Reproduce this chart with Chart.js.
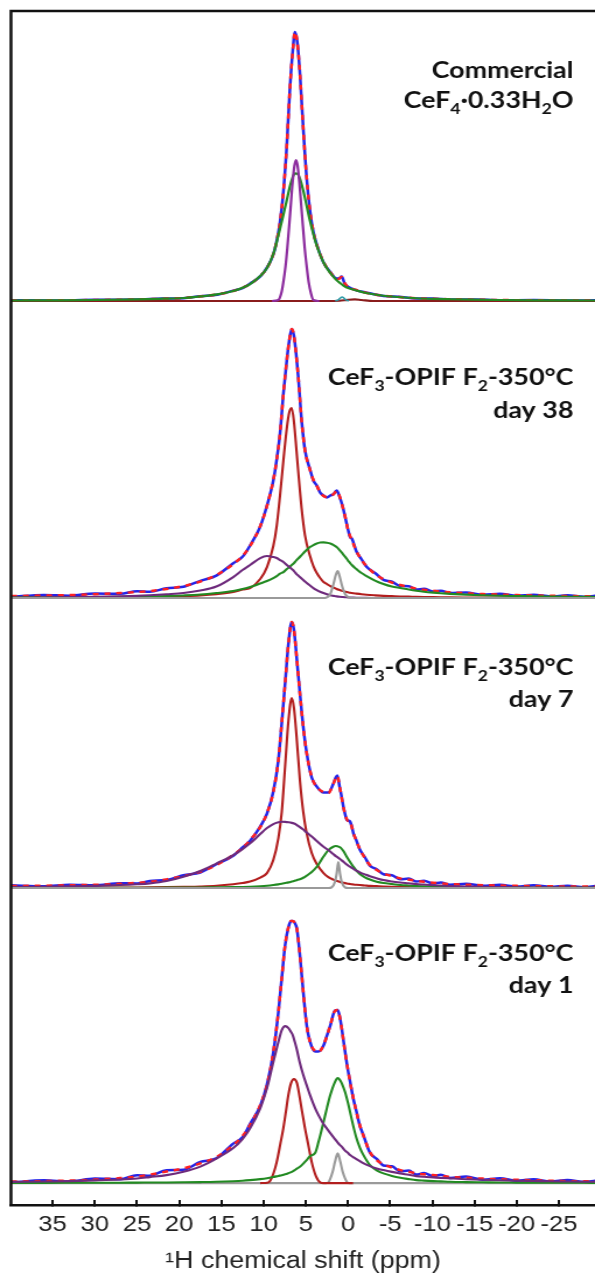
<!DOCTYPE html>
<html>
<head>
<meta charset="utf-8">
<script src="https://cdn.jsdelivr.net/npm/chart.js@4.4.1/dist/chart.umd.min.js"></script>
<style>
    html, body { margin: 0; padding: 0; background: #fff; overflow: hidden; }
    #wrap { width: 595px; height: 1276px; overflow: hidden; }
</style>
</head>
<body>
<div id="wrap"><canvas id="spectra" width="510" height="1276" style="display:block;width:595px;height:1276px"></canvas></div>
<script>
// Osa x (ppm), obrácená
const X_LEFT = 39.93;
const X_RIGHT = -29.27;
const xTicks = [35, 30, 25, 20, 15, 10, 5, 0, -5, -10, -15, -20, -25];

// Posun základní linie jednotlivých spekter (shora dolů)
const OFF1 = 904;
const OFF2 = 607;
const OFF3 = 317;
const OFF4 = 22;

// --- Commercial CeF4·0.33H2O ---
const p1Ppm = [39.9, 35, 30, 25, 22, 19.5, 17.5, 15.5, 13.6, 12.5, 11.6, 10.4, 9.6, 8.85, 8.45, 8.05, 7.65, 7.25, 6.9, 6.55,
    6.28, 6.0, 5.7, 5.3, 4.9, 4.5, 4.1, 3.7, 2.9, 2.1, 1.5, 1.1, 0.75, 0.4, 0, -1, -2, -4.2, -6, -8.1,
    -10, -12, -15, -18, -22, -26, -29.3];
const p1Blue = [0.8, 0.5, 1.2, 1.4, 2.6, 2.8, 4.9, 6.3, 10.4, 13, 17.4, 24.6, 33.4, 46.5, 60, 79, 110, 156, 210, 250,
    269, 258, 228, 172, 123, 90, 69, 56.5, 38.6, 29, 23, 22.5, 24.5, 17.6, 14.3, 10.7, 8.8, 5.1, 4.3, 2.6,
    2.5, 1.6, 1.5, 0.8, 0.9, 0.5, 0.7];
const p1Fit = [0.5, 0.7, 1.0, 1.6, 2.3, 3.0, 4.6, 6.6, 10, 13.3, 17, 25, 33, 47, 60, 79, 110, 156, 210, 250,
    269, 258, 228, 172, 123, 90, 69, 56, 39, 28.5, 23, 22, 24, 18, 14, 11, 8.5, 5.4, 4.0, 2.8,
    2.2, 1.8, 1.3, 1.0, 0.7, 0.6, 0.5];
const p1Green = [0.5, 0.7, 1.0, 1.6, 2.3, 3.0, 4.6, 6.6, 10, 13.3, 17, 25, 33, 47, 59, 72.5, 86.5, 101, 114, 124,
    127.6, 127.3, 122.4, 110.4, 95.2, 80, 66.8, 55.3, 38.5, 28, 22.2, 19, 16.8, 14.6, 13, 10.6, 8.3, 5.3, 4.0, 2.8,
    2.2, 1.8, 1.3, 1.0, 0.7, 0.6, 0.5];
const p1PurplePpm = [9, 8.26, 7.9, 7.66, 7.4, 7.19, 6.87, 6.56, 6.35, 6.16, 5.97, 5.77, 5.45, 5.13, 4.9, 4.66, 4.4, 4.11, 3.4];
const p1Purple = [0, 1, 8, 19, 35, 53, 86, 119, 135, 141, 135, 119, 86, 53, 35, 19, 8, 1, 0];
const p1SmallPpm = [1.5, 1.1, 0.85, 0.7, 0.55, 0.3, -0.1];
const p1Small = [0, 1.5, 3.5, 4, 3.5, 1.5, 0];
const p1BasePpm = [39.9, 2.5, 1.0, 0, -0.8, -1.6, -3, -29.3];
const p1Base = [0, 0, 0.3, 1.2, 1.6, 1.0, 0, 0];

// --- day 38 ---
const p2Ppm = [39.9, 36, 33, 30, 27, 25, 23.5, 21.5, 19.5, 17.5,
    15.6, 13.6, 12.5, 11.6, 10.4, 9.6, 8.85, 8.45, 8.05, 7.65,
    7.25, 6.95, 6.67, 6.4, 6.1, 5.9, 5.5, 5.1, 4.5, 4.1,
    3.7, 3.3, 2.9, 2.5, 2.1, 1.7, 1.35, 1.0, 0.6, 0.3,
    0, -0.25, -0.45, -1.0, -1.6, -2.2, -3.2, -4.2, -5.2, -6.2,
    -7.2, -8.1, -9, -10.1, -11, -12.1, -14, -16, -18, -20,
    -22, -24, -26, -28, -29.3];
const p2Blue = [1.2, 3.1, 2.4, 4.5, 4.3, 6.8, 6.2, 9.8, 11.3, 17.2,
    22.4, 34.8, 41.2, 52.6, 71.5, 92.5, 117.5, 138.5, 165, 205,
    238, 258, 269, 262, 240, 222, 178, 148, 128.5, 117.5,
    112.5, 105.5, 102.5, 100.5, 102.5, 104, 107.5, 101.5, 90.5, 79.5,
    68.5, 61, 59.5, 46.5, 38.8, 31.2, 25, 18.2, 16.4, 12.1,
    11.8, 8.6, 9.2, 6.5, 7.4, 5, 5.6, 3.2, 4.2, 2.3,
    3.3, 1.6, 2.7, 1.2, 2.2];
const p2Fit = [2, 2.5, 3, 3.8, 5, 6, 7, 9, 12, 16.5,
    23, 34, 42, 52, 72, 92, 118, 138, 165, 205,
    238, 258, 269, 262, 240, 222, 178, 148, 128, 118,
    112, 106, 102, 101, 102, 104, 107, 102, 90, 80,
    68, 62, 58, 47, 38, 32, 24, 19, 15.5, 13,
    11, 9.5, 8.3, 7.3, 6.5, 5.8, 4.8, 4, 3.4, 3,
    2.6, 2.3, 2, 1.8, 1.7];
const p2DarkRed = [0.3, 0.35, 0.45, 0.55, 0.75, 0.9, 1.1, 1.4, 1.9, 2.6,
    3.8, 6, 8.5, 10, 19, 31, 52, 72, 103, 138,
    170, 186, 190, 176, 147, 127, 90, 63, 42, 32,
    25, 20, 16, 14, 12, 10.5, 9, 8, 7, 6.3,
    5.7, 5.3, 5, 4.4, 3.8, 3.3, 2.7, 2.2, 1.9, 1.6,
    1.4, 1.2, 1.05, 0.9, 0.8, 0.7, 0.6, 0.5, 0.45, 0.4,
    0.35, 0.3, 0.27, 0.25, 0.25];
const p2Purple = [0.5, 0.7, 0.9, 1.2, 1.7, 2.2, 2.8, 3.8, 5, 7.5,
    11.5, 21, 28, 33, 40, 42, 41, 40, 38, 36,
    33, 31, 29, 27, 24, 22.5, 19.5, 16.5, 12.5, 10,
    8, 6.3, 5, 3.8, 2.8, 2.2, 1.7, 1.3, 1, 0.8,
    0.6, 0.5, 0.45, 0.3, 0.2, 0.15, 0.1, 0.05, 0, 0,
    0, 0, 0, 0, 0, 0, 0, 0, 0, 0,
    0, 0, 0, 0, 0];
const p2Green = [0.6, 0.7, 0.8, 1, 1.2, 1.4, 1.6, 2, 2.6, 3.5,
    5, 7, 9, 11, 14.5, 17, 20, 22, 24.5, 26,
    29, 31, 33, 35, 38, 39.5, 43, 46.5, 51, 53,
    54.5, 55.5, 55.7, 55.3, 54.5, 53, 51, 48, 44, 41,
    37.5, 35, 33, 29, 25, 22, 17.5, 14, 11.5, 10,
    8.5, 7.3, 6.3, 5.4, 4.8, 4.2, 3.4, 2.8, 2.3, 2,
    1.7, 1.5, 1.3, 1.2, 1.1];
const p2GrayPpm = [39.9, 3.0, 2.5, 2.1, 1.75, 1.45, 1.22, 1.0, 0.7, 0.35, -0.1, -0.6, -29.3];
const p2Gray = [0, 0, 0.7, 4, 13, 23, 27, 22, 12, 4, 0.7, 0, 0];

// --- day 7 ---
const p3Ppm = [39.9, 36, 33, 30, 27, 25, 23.5, 21.5, 19.5, 17.5,
    15.6, 13.6, 12.5, 11.6, 10.4, 9.6, 8.85, 8.25, 7.85, 7.45,
    7.05, 6.67, 6.4, 6.1, 5.7, 5.3, 4.9, 4.3, 3.7, 2.9,
    2.33, 1.75, 1.45, 1.26, 1.0, 0.85, 0.5, 0.15, -0.05, -0.25,
    -0.45, -0.65, -1.0, -1.4, -2.0, -2.6, -3.4, -4.2, -5.2, -6.2,
    -7.2, -8.1, -9, -10.1, -11, -12.1, -14, -16, -18, -20,
    -22, -24, -26, -28, -29.3];
const p3Blue = [2.8, 1.7, 3.4, 2.9, 4.9, 4.6, 7.1, 8.1, 12.8, 15.6,
    23.8, 32.3, 40.6, 47.4, 61.5, 74.4, 96.5, 128, 165, 205,
    245, 266, 258, 232, 195, 161, 135.5, 110.5, 101.5, 95.5,
    95.5, 104, 110.5, 112.5, 101.5, 95.5, 79.5, 68.5, 67.5, 66.5,
    61.5, 54.5, 47.5, 38.5, 30.8, 22.3, 18.9, 13.8, 12.9, 8.8,
    9.5, 6.5, 7.4, 4.6, 5.6, 3.3, 4.3, 2.2, 3.3, 1.6,
    2.8, 1.2, 2.4, 0.9, 2.1];
const p3Fit = [2, 2.4, 2.8, 3.3, 4.2, 5.2, 6.3, 8.7, 12, 16.3,
    23, 33, 40, 48, 61, 75, 96, 128, 165, 205,
    245, 266, 258, 232, 195, 161, 135, 111, 101, 96,
    95, 104, 110, 112, 102, 95, 79, 69, 67, 67,
    61, 55, 47, 39, 30, 23, 18, 14.7, 12, 9.7,
    8.4, 7.3, 6.3, 5.3, 4.6, 4, 3.4, 2.9, 2.5, 2.2,
    2, 1.8, 1.6, 1.5, 1.4];
const p3DarkRed = [0.2, 0.25, 0.3, 0.4, 0.5, 0.6, 0.7, 0.9, 1.2, 1.6,
    2.3, 3.8, 5, 6.5, 10.5, 15, 28, 50, 76, 122,
    168, 190, 180, 152, 108, 76, 55, 35, 24, 15,
    11, 8.5, 7.5, 7, 6.3, 5.9, 5.2, 4.6, 4.3, 4,
    3.8, 3.6, 3.3, 3, 2.6, 2.2, 1.9, 1.6, 1.3, 1.1,
    0.95, 0.85, 0.75, 0.65, 0.6, 0.5, 0.4, 0.35, 0.3, 0.27,
    0.25, 0.22, 0.2, 0.2, 0.2];
const p3Purple = [1, 1.3, 1.7, 2.2, 3, 3.8, 4.7, 7, 11.3, 17,
    24.5, 33, 39, 44.7, 54, 60, 64, 65.7, 66.3, 66.2,
    65.8, 65.2, 64.5, 63.3, 61, 58.5, 55.5, 51.5, 47, 41.3,
    38, 34, 32, 31, 29.3, 28.3, 26, 23.5, 22.3, 21.3,
    20.2, 19.2, 17.5, 15.7, 13.7, 11.8, 9.8, 8, 6.6, 5.6,
    4.8, 4, 3.5, 2.9, 2.5, 2, 1.6, 1.2, 1, 0.8,
    0.6, 0.5, 0.4, 0.3, 0.3];
const p3Green = [0.2, 0.2, 0.25, 0.25, 0.3, 0.3, 0.35, 0.4, 0.5, 0.6,
    0.8, 1, 1.1, 1.3, 1.8, 2.3, 3, 3.7, 4.3, 5,
    5.7, 6.5, 7.1, 7.9, 8.9, 10.3, 12.4, 16, 21.3, 31.5,
    38, 41.3, 42, 41.8, 41, 40.2, 36.5, 31.3, 28.6, 26,
    23.5, 21.2, 17.5, 14, 10.8, 8.5, 6.3, 5, 4, 3.1,
    2.5, 2, 1.7, 1.4, 1.2, 1, 0.8, 0.6, 0.5, 0.4,
    0.35, 0.3, 0.3, 0.25, 0.25];
const p3GrayPpm = [39.9, 2.3, 1.94, 1.54, 1.34, 1.15, 0.95, 0.75, 0.36, 0, -29.3];
const p3Gray = [0, 0, 0.7, 6.3, 14.7, 26, 14.7, 6.3, 0.7, 0, 0];

// --- day 1 ---
const p4Ppm = [39.9, 36, 33, 30, 27, 25, 23.5, 21.5, 19.5, 17.5,
    15.6, 13.6, 12.5, 11.6, 10.4, 9.6, 8.85, 8.25, 7.85, 7.45,
    7.05, 6.75, 6.55, 6.3, 6.05, 5.7, 5.3, 4.9, 4.5, 3.9,
    3.5, 2.9, 2.5, 2.1, 1.55, 1.22, 0.95, 0.75, 0.35, 0,
    -0.25, -0.6, -1.0, -1.4, -1.8, -2.6, -3.4, -4.2, -5.2, -6.2,
    -7.2, -8.1, -9, -10.1, -11, -12.1, -14, -16, -18, -20,
    -22, -24, -26, -28, -29.3];
const p4Blue = [0.5, 2.8, 1.6, 4.6, 3.9, 7.8, 7.4, 12.9, 13.4, 21.2,
    24.8, 39.5, 45.8, 59.3, 77.2, 98.5, 130.5, 171, 205, 238,
    256, 262, 262, 260, 254, 228, 191, 158, 141.5, 131.5,
    131.5, 137.5, 147.5, 157.5, 172.5, 173, 165, 155, 131.5, 112.5,
    101.5, 85.5, 71.5, 57.5, 48.5, 30.5, 24.2, 17.6, 16.8, 11.8,
    12.6, 8.5, 10, 6.9, 8.4, 5.1, 6.5, 3.4, 4.9, 2.3,
    3.8, 1.5, 3, 1, 2.4];
const p4Fit = [1.5, 2, 2.5, 3.5, 5, 6.5, 8.5, 11.5, 14.7, 19.7,
    26, 38, 47, 58, 78, 98, 131, 171, 205, 238,
    256, 262, 262, 260, 254, 228, 191, 158, 141, 132,
    131, 138, 147, 158, 172, 173, 165, 155, 131, 113,
    101, 86, 71, 58, 48, 31, 23, 18.7, 15.5, 13,
    11.3, 9.7, 8.8, 8, 7.2, 6.3, 5.3, 4.5, 3.8, 3.3,
    2.8, 2.4, 2.1, 1.8, 1.7];
const p4Purple = [1.2, 1.6, 2, 2.7, 3.6, 4.6, 6, 8, 11.3, 16.5,
    24.5, 35, 44, 54.7, 74.7, 95, 121, 141, 153, 157,
    155, 151, 148, 141, 133, 120, 108, 98, 88, 75,
    68, 59, 54.5, 50, 44, 40.5, 38, 36.5, 32.5, 30,
    28, 26, 24, 22, 20, 17, 14.7, 13, 11.2, 9.7,
    8.3, 7, 6.3, 5.7, 5.2, 4.7, 3.9, 3.3, 2.8, 2.4,
    2.1, 1.8, 1.6, 1.4, 1.3];
const p4Green = [0.2, 0.25, 0.3, 0.35, 0.4, 0.5, 0.55, 0.65, 0.8, 1,
    1.3, 1.9, 2.4, 3, 4, 4.9, 6.1, 7.2, 7.9, 8.8,
    10, 11, 11.8, 13, 14.5, 16.3, 19.5, 23, 27, 30,
    41, 61, 75, 88, 101, 105, 103, 100, 91, 80,
    71, 58, 45, 35.5, 28.5, 18, 12.8, 9.7, 7.2, 5.3,
    4, 3, 2.5, 2, 1.7, 1.3, 1, 0.8, 0.6, 0.5,
    0.4, 0.35, 0.3, 0.3, 0.25];
const p4DarkRedPpm = [10.4, 9.44, 9.0, 8.45, 8.0, 7.66, 7.35, 7.07, 6.75, 6.4, 6.05, 5.77, 5.45, 5.1, 4.7, 4.3, 3.8, 3.3, 2.9, -0.6];
const p4DarkRed = [0, 0.7, 6, 21, 40, 55, 72, 88, 100, 104, 100, 88, 72, 55, 38, 21, 7, 0.7, 0, 0];
const p4GrayPpm = [39.9, 2.6, 2.33, 1.82, 1.54, 1.22, 0.91, 0.63, 0.08, -0.2, -29.3];
const p4Gray = [0, 0, 0.7, 11.3, 21.3, 29.7, 21.3, 11.3, 0.7, 0, 0];

// Popisky vzorků: [text, dolní index]
const sampleLabels = [
    [[['Commercial']], [['CeF'], ['4', true], ['\u00b70.33H'], ['2', true], ['O']]],
    [[['CeF'], ['3', true], ['-OPIF F'], ['2', true], ['-350\u00b0C']], [['day 38']]],
    [[['CeF'], ['3', true], ['-OPIF F'], ['2', true], ['-350\u00b0C']], [['day 7']]],
    [[['CeF'], ['3', true], ['-OPIF F'], ['2', true], ['-350\u00b0C']], [['day 1']]]
];

// Barvy
const BLUE = '#2424e8';
const RED = '#ff2020';
const DARKRED = '#b21e1e';
const MAROON = '#8a1c1c';
const PURPLE1 = '#8c2c9e';
const PURPLE = '#6e2a7c';
const GREEN = '#228a22';
const GRAY = '#9a9a9a';
const TEAL = '#2c9aa6';

// Převod polí na body grafu
function toPoints(ppm, values, offset) {
    return ppm.map((x, i) => ({ x: x, y: values[i] + offset }));
}

function line(label, ppm, values, offset, color, width, order, dash) {
    return {
        label: label,
        data: toPoints(ppm, values, offset),
        borderColor: color,
        borderWidth: width,
        borderDash: dash || [],
        pointRadius: 0,
        fill: false,
        cubicInterpolationMode: 'monotone',
        order: order
    };
}

// Vykreslení textu s dolními indexy, zarovnáno doprava
function drawLabel(ctx, parts, right, base) {
    const mainFont = 'bold 23px Lato';
    const subFont = 'bold 15px Lato';
    let width = 0;
    parts.forEach(p => {
        ctx.font = p[1] ? subFont : mainFont;
        width += ctx.measureText(p[0]).width;
    });
    let x = right - width;
    parts.forEach(p => {
        ctx.font = p[1] ? subFont : mainFont;
        ctx.fillText(p[0], x, p[1] ? base + 6 : base);
        x += ctx.measureText(p[0]).width;
    });
}

// Rámeček grafu a popisky
const framePlugin = {
    id: 'frame',
    afterDraw(chart) {
        const { ctx, chartArea } = chart;
        ctx.save();
        ctx.strokeStyle = '#111';
        ctx.lineWidth = 2.5;
        ctx.beginPath();
        ctx.moveTo(chartArea.left, chartArea.bottom);
        ctx.lineTo(chartArea.left, chartArea.top);
        ctx.lineTo(chartArea.right + 10, chartArea.top);
        ctx.stroke();

        ctx.fillStyle = '#111';
        ctx.textBaseline = 'alphabetic';
        const baselines = [[78, 108], [385, 418], [675, 707], [961, 993]];
        sampleLabels.forEach((lines, i) => {
            lines.forEach((parts, j) => drawLabel(ctx, parts, 491.5, baselines[i][j]));
        });
        ctx.restore();
    }
};

function createSpectraChart() {
    const canvas = document.getElementById('spectra');
    if (!canvas) return;

    if (typeof Chart === 'undefined') {
        console.error('Chart.js není načtený.');
        return;
    }

    const datasets = [
        // Commercial
        line('p1 exp', p1Ppm, p1Blue, OFF1, BLUE, 2.5, 6),
        line('p1 fit', p1Ppm, p1Fit, OFF1, RED, 2.5, 5, [5, 5]),
        line('p1 base', p1BasePpm, p1Base, OFF1, MAROON, 2.2, 4),
        line('p1 L', p1Ppm, p1Green, OFF1, GREEN, 2.2, 2),
        line('p1 G', p1PurplePpm, p1Purple, OFF1, PURPLE1, 2.2, 1),
        line('p1 small', p1SmallPpm, p1Small, OFF1, TEAL, 1.6, 0),
        // day 38
        line('p2 exp', p2Ppm, p2Blue, OFF2, BLUE, 2.5, 6),
        line('p2 fit', p2Ppm, p2Fit, OFF2, RED, 2.5, 5, [5, 5]),
        line('p2 c1', p2Ppm, p2DarkRed, OFF2, DARKRED, 2.1, 3),
        line('p2 c2', p2Ppm, p2Green, OFF2, GREEN, 2.1, 2),
        line('p2 c3', p2Ppm, p2Purple, OFF2, PURPLE, 2.1, 1),
        line('p2 c4', p2GrayPpm, p2Gray, OFF2, GRAY, 2.1, 0),
        // day 7
        line('p3 exp', p3Ppm, p3Blue, OFF3, BLUE, 2.5, 6),
        line('p3 fit', p3Ppm, p3Fit, OFF3, RED, 2.5, 5, [5, 5]),
        line('p3 c1', p3Ppm, p3DarkRed, OFF3, DARKRED, 2.1, 3),
        line('p3 c2', p3Ppm, p3Green, OFF3, GREEN, 2.1, 2),
        line('p3 c3', p3Ppm, p3Purple, OFF3, PURPLE, 2.1, 1),
        line('p3 c4', p3GrayPpm, p3Gray, OFF3, GRAY, 2.1, 0),
        // day 1
        line('p4 exp', p4Ppm, p4Blue, OFF4, BLUE, 2.5, 6),
        line('p4 fit', p4Ppm, p4Fit, OFF4, RED, 2.5, 5, [5, 5]),
        line('p4 c4', p4GrayPpm, p4Gray, OFF4, GRAY, 2.1, 4),
        line('p4 c1', p4DarkRedPpm, p4DarkRed, OFF4, DARKRED, 2.1, 3),
        line('p4 c2', p4Ppm, p4Green, OFF4, GREEN, 2.1, 2),
        line('p4 c3', p4Ppm, p4Purple, OFF4, PURPLE, 2.1, 1)
    ];

    new Chart(canvas.getContext('2d'), {
        type: 'line',
        data: { datasets: datasets },
        options: {
            responsive: false,
            animation: false,
            layout: { padding: { top: 11, left: 9.43, right: 0, bottom: 2.5 } },
            plugins: {
                legend: { display: false },
                tooltip: { enabled: false }
            },
            scales: {
                x: {
                    type: 'linear',
                    min: X_RIGHT,
                    max: X_LEFT,
                    reverse: true,
                    afterBuildTicks: function(axis) {
                        axis.ticks = xTicks.map(v => ({ value: v }));
                    },
                    border: { display: true, color: '#111', width: 2.5 },
                    grid: {
                        drawOnChartArea: false,
                        drawTicks: true,
                        tickLength: -5,
                        color: '#111',
                        lineWidth: 2
                    },
                    ticks: {
                        autoSkip: false,
                        maxRotation: 0,
                        padding: 12,
                        color: '#222',
                        font: { family: 'Liberation Sans, Arial, sans-serif', size: 22 },
                        callback: function(value) {
                            return String(value);
                        }
                    },
                    title: {
                        display: true,
                        text: '\u00b9H chemical shift (ppm)',
                        color: '#222',
                        font: { family: 'Liberation Sans, Arial, sans-serif', size: 23, lineHeight: 1 },
                        padding: { top: 0, bottom: 0 }
                    }
                },
                y: {
                    display: false,
                    min: 0,
                    max: 1194
                }
            }
        },
        plugins: [framePlugin]
    });
}

createSpectraChart();
</script>
</body>
</html>
